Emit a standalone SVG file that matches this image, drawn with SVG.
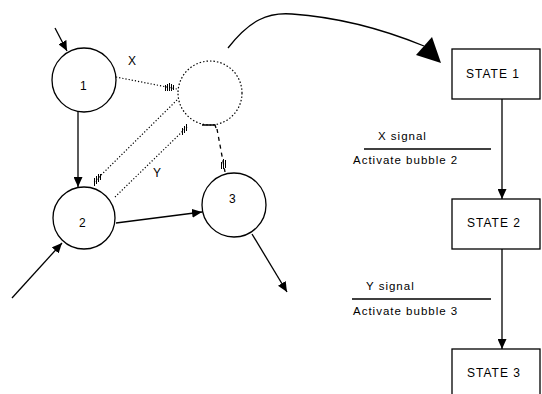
<svg xmlns="http://www.w3.org/2000/svg" width="542" height="394" viewBox="0 0 542 394">
<defs>
<marker id="arr" markerUnits="userSpaceOnUse" markerWidth="11" markerHeight="9" refX="10" refY="4.5" orient="auto">
<path d="M0,0 L10,4.5 L0,9 z" fill="#000"/>
</marker>
<style>
.n{fill:#fff;stroke:#000;stroke-width:1.3}
.dc{fill:none;stroke:#000;stroke-width:1.2;stroke-dasharray:1.5,2}
.t{font-family:"Liberation Sans",Arial,sans-serif;font-size:12px;fill:#000}
.s{font-family:"Liberation Sans",Arial,sans-serif;font-size:11.5px;fill:#000;letter-spacing:1px}
.c{fill:none;stroke:#000;stroke-width:1.3}
.d{fill:none;stroke:#000;stroke-width:1.2;stroke-dasharray:1.2,2}
.h{fill:none;stroke:#000;stroke-width:1;shape-rendering:crispEdges}
.b{fill:#fff;stroke:#000;stroke-width:1.3}
</style>
</defs>
<g id="connectors">
<line class="c" x1="55" y1="28" x2="67" y2="51" marker-end="url(#arr)"/>
<line class="c" x1="78" y1="112" x2="78" y2="187" marker-end="url(#arr)"/>
<line class="c" x1="116" y1="223" x2="202" y2="212" marker-end="url(#arr)"/>
<line class="c" x1="12" y1="298" x2="62" y2="243" marker-end="url(#arr)"/>
<line class="c" x1="252" y1="234" x2="287" y2="292" marker-end="url(#arr)"/>
<line class="d" x1="116" y1="77" x2="177" y2="89"/>
<line class="d" x1="177" y1="100" x2="93" y2="183"/>
<line class="d" x1="115" y1="197" x2="188" y2="126"/>
<path class="c" d="M202,125 L215,125 L216,128" stroke-width="1.2"/>
<path class="c" d="M217,129 L225,172" stroke-dasharray="4,4" stroke-width="1.2"/>
<path class="h" d="M165.5,85v6M167.5,84v7M169.5,83v8M171.5,84v7M173.5,85v5"/>
<path class="h" d="M94.5,178v8M96.5,176v8M98.5,174v8M100.5,174v6"/>
<path class="h" d="M182.5,128v7M184.5,126v7M186.5,124v7"/>
<path class="h" d="M221.5,162v7M223.5,159v10M225.5,160v8"/>
<path class="c" d="M228,48 C250,20 268,12 292,14 C335,17 380,28 424,46"/>
<polygon points="416,55 432,37 441,63" fill="#000"/>
<line class="c" x1="502" y1="99" x2="502" y2="199" marker-end="url(#arr)"/>
<line class="c" x1="502" y1="249" x2="502" y2="349" marker-end="url(#arr)"/>
<line class="c" x1="364" y1="149" x2="491" y2="149" stroke-width="1"/>
<line class="c" x1="352" y1="299" x2="491" y2="299" stroke-width="1"/>
</g>
<g id="bubble1"><circle class="n" cx="84" cy="80" r="32"/><text class="t" x="80" y="90">1</text></g>
<g id="bubble2"><circle class="n" cx="84" cy="218" r="31"/><text class="t" x="79" y="227">2</text></g>
<g id="bubble3"><circle class="n" cx="234" cy="205" r="32"/><text class="t" x="229" y="203">3</text></g>
<g id="bubbleDotted"><circle class="dc" cx="210" cy="93" r="32"/></g>
<g id="labels">
<text class="t" x="128" y="65" font-size="11">X</text>
<text class="t" x="153" y="177" font-size="11">Y</text>
<text class="s" x="378" y="140">X signal</text>
<text class="s" x="353" y="164">Activate bubble 2</text>
<text class="s" x="366" y="290">Y signal</text>
<text class="s" x="353" y="315">Activate bubble 3</text>
</g>
<g id="state1"><rect class="b" x="452" y="49" width="88" height="50"/><text class="t" x="466" y="78" font-size="12.5" letter-spacing="1">STATE 1</text></g>
<g id="state2"><rect class="b" x="452" y="199" width="88" height="50"/><text class="t" x="467" y="227" font-size="12.5" letter-spacing="1">STATE 2</text></g>
<g id="state3"><rect class="b" x="452" y="349" width="88" height="50"/><text class="t" x="467" y="377" font-size="12.5" letter-spacing="1">STATE 3</text></g>
</svg>
